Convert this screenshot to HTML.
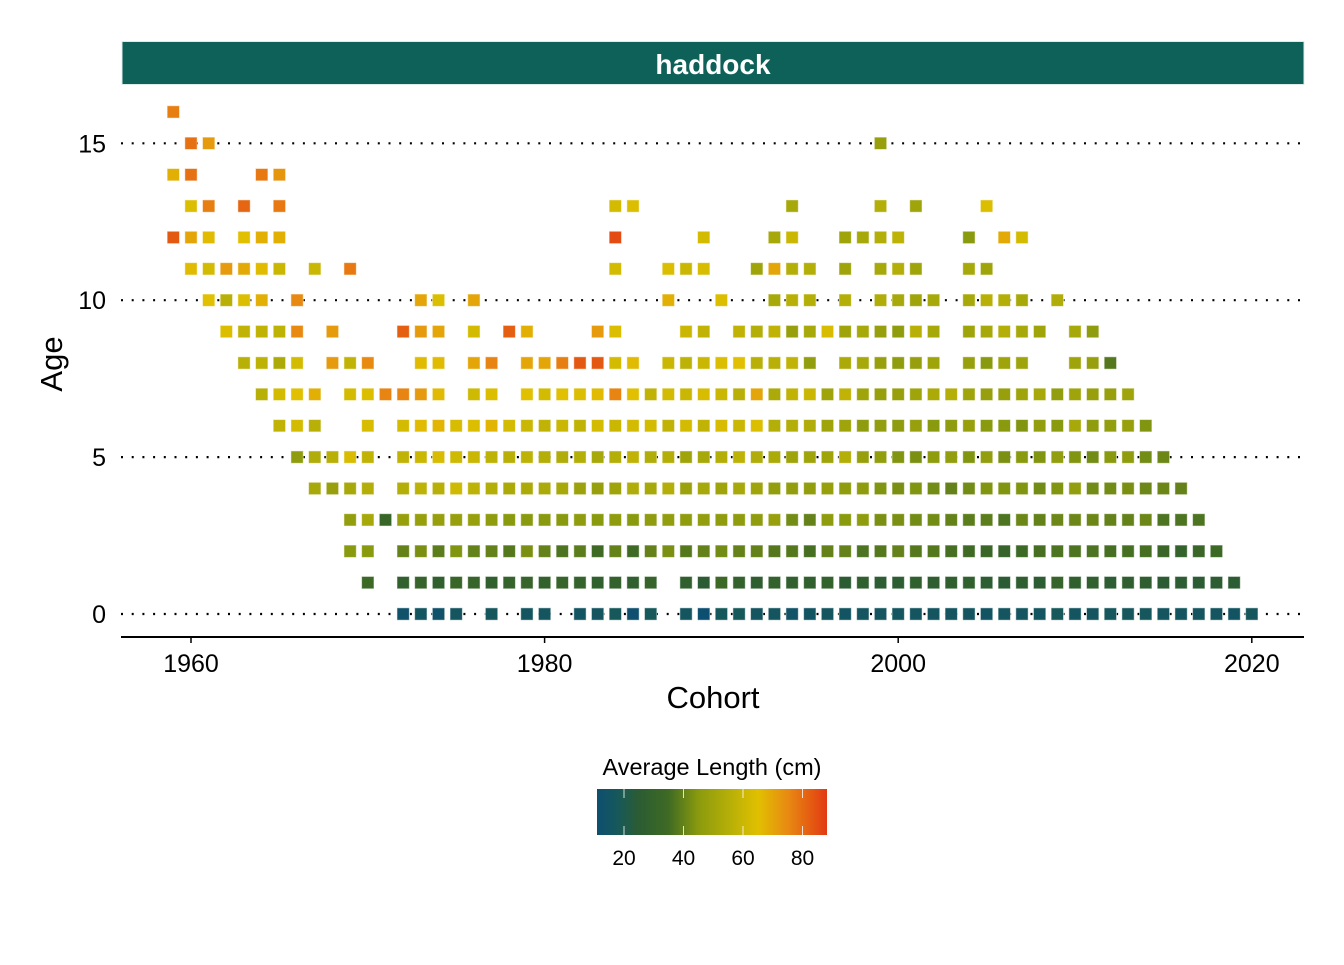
<!DOCTYPE html>
<html><head><meta charset="utf-8"><style>
html,body{margin:0;padding:0;background:#fff;}
svg text{font-family:"Liberation Sans",Arial,sans-serif;}
</style></head><body>
<svg id="chart" width="1344" height="960" viewBox="0 0 1344 960" xmlns="http://www.w3.org/2000/svg">
<defs>
<linearGradient id="cbar" x1="0" x2="1" y1="0" y2="0">
<stop offset="0" stop-color="#0d4f70"/>
<stop offset="0.09" stop-color="#17585a"/>
<stop offset="0.18" stop-color="#2b5c33"/>
<stop offset="0.31" stop-color="#3e6a24"/>
<stop offset="0.44" stop-color="#8a9a0e"/>
<stop offset="0.57" stop-color="#b4ae08"/>
<stop offset="0.70" stop-color="#e0c000"/>
<stop offset="0.83" stop-color="#e88a12"/>
<stop offset="1" stop-color="#e23a12"/>
</linearGradient>
</defs>
<rect x="122" y="41.5" width="1182" height="43" fill="#0e6159" stroke="#e0ecea" stroke-width="1"/>
<text x="713" y="74" text-anchor="middle" font-size="28" font-weight="bold" fill="#fff">haddock</text>
<g id="grid"></g>
<g id="cells"></g>
<line x1="121" x2="1304" y1="637" y2="637" stroke="#000" stroke-width="2"/>
<g id="axes"></g>
<text x="713" y="708" text-anchor="middle" font-size="31">Cohort</text>
<text x="62" y="364" text-anchor="middle" font-size="31" transform="rotate(-90 62 364)">Age</text>
<g>
<text x="712" y="775" text-anchor="middle" font-size="23.5">Average Length (cm)</text>
<rect x="597" y="789" width="230" height="46" fill="url(#cbar)"/>
<g id="legendticks"></g>
</g>
</svg>
<script>
const NS="http://www.w3.org/2000/svg";
const ageTicks=[0,5,10,15];
const cohortTicks=[1960,1980,2000,2020];
const legendTicks=[20,40,60,80];
const age16=[[1959,77]];
const age15=[[1960,79],[1961,72],[1999,48]];
const age14=[[1959,68],[1960,79],[1964,78],[1965,73]];
const age13=[[1960,64],[1961,77],[1963,81],[1965,78],[1984,62],[1985,64],[1994,52],[1999,55],[2001,50],[2005,64]];
const age12=[[1959,83],[1960,70],[1961,66],[1963,65],[1964,68],[1965,68],[1984,85],[1989,62],[1993,52],[1994,60],[1997,50],[1998,52],[1999,55],[2000,57],[2004,45],[2006,69],[2007,62]];
const age11=[[1960,66],[1961,62],[1962,72],[1963,69],[1964,66],[1965,60],[1967,60],[1969,78],[1984,62],[1987,64],[1988,60],[1989,63],[1992,50],[1993,70],[1994,55],[1995,55],[1997,50],[1999,52],[2000,55],[2001,50],[2004,52],[2005,50]];
const age10=[[1961,65],[1962,56],[1963,64],[1964,68],[1966,75],[1973,70],[1974,64],[1976,70],[1987,68],[1990,64],[1993,52],[1994,56],[1995,55],[1997,55],[1999,54],[2000,52],[2001,50],[2002,52],[2004,52],[2005,56],[2006,55],[2007,52],[2009,54]];
const age9=[[1962,64],[1963,58],[1964,58],[1965,57],[1966,75],[1968,72],[1972,82],[1973,72],[1974,70],[1976,62],[1978,82],[1979,68],[1983,72],[1984,64],[1988,60],[1989,58],[1991,58],[1992,55],[1993,58],[1994,48],[1995,52],[1996,63],[1997,50],[1998,52],[1999,48],[2000,46],[2001,56],[2002,52],[2004,50],[2005,52],[2006,55],[2007,52],[2008,50],[2010,52],[2011,46]];
const age8=[[1963,56],[1964,57],[1965,53],[1966,62],[1968,72],[1969,58],[1970,75],[1973,66],[1974,66],[1976,70],[1977,76],[1979,70],[1980,70],[1981,77],[1982,83],[1983,83],[1984,62],[1985,66],[1987,60],[1988,57],[1989,60],[1990,64],[1991,65],[1992,56],[1993,56],[1994,58],[1995,47],[1997,53],[1998,52],[1999,48],[2000,46],[2001,48],[2002,50],[2004,48],[2005,45],[2006,50],[2007,50],[2010,50],[2011,48],[2012,38]];
const age7=[[1964,56],[1965,62],[1966,65],[1967,68],[1969,62],[1970,64],[1971,76],[1972,76],[1973,72],[1974,66],[1976,61],[1977,64],[1979,65],[1980,62],[1981,65],[1982,64],[1983,66],[1984,76],[1985,65],[1986,58],[1987,62],[1988,60],[1989,63],[1990,60],[1991,56],[1992,70],[1993,53],[1994,58],[1995,60],[1996,50],[1997,58],[1998,50],[1999,48],[2000,48],[2001,50],[2002,53],[2003,55],[2004,50],[2005,48],[2006,48],[2007,50],[2008,52],[2009,47],[2010,50],[2011,48],[2012,48],[2013,50]];
const age6=[[1965,58],[1966,62],[1967,56],[1970,63],[1972,62],[1973,66],[1974,67],[1975,63],[1976,64],[1977,67],[1978,62],[1979,60],[1980,58],[1981,60],[1982,58],[1983,62],[1984,60],[1985,62],[1986,62],[1987,58],[1988,62],[1989,58],[1990,63],[1991,60],[1992,64],[1993,55],[1994,55],[1995,54],[1996,50],[1997,50],[1998,46],[1999,47],[2000,46],[2001,48],[2002,45],[2003,46],[2004,48],[2005,45],[2006,45],[2007,44],[2008,47],[2009,45],[2010,52],[2011,46],[2012,47],[2013,48],[2014,44]];
const age5=[[1966,46],[1967,54],[1968,56],[1969,63],[1970,58],[1972,58],[1973,60],[1974,63],[1975,61],[1976,60],[1977,57],[1978,56],[1979,57],[1980,55],[1981,54],[1982,55],[1983,52],[1984,55],[1985,58],[1986,54],[1987,55],[1988,50],[1989,52],[1990,55],[1991,57],[1992,54],[1993,53],[1994,50],[1995,50],[1996,50],[1997,55],[1998,48],[1999,47],[2000,44],[2001,43],[2002,46],[2003,47],[2004,44],[2005,47],[2006,43],[2007,45],[2008,44],[2009,47],[2010,44],[2011,42],[2012,45],[2013,46],[2014,42],[2015,41]];
const age4=[[1967,52],[1968,48],[1969,52],[1970,55],[1972,55],[1973,57],[1974,56],[1975,61],[1976,57],[1977,55],[1978,53],[1979,53],[1980,53],[1981,52],[1982,49],[1983,48],[1984,50],[1985,54],[1986,52],[1987,55],[1988,49],[1989,52],[1990,50],[1991,52],[1992,50],[1993,47],[1994,47],[1995,47],[1996,48],[1997,46],[1998,46],[1999,44],[2000,43],[2001,44],[2002,42],[2003,40],[2004,42],[2005,44],[2006,44],[2007,44],[2008,42],[2009,44],[2010,47],[2011,42],[2012,42],[2013,43],[2014,41],[2015,41],[2016,40]];
const age3=[[1969,47],[1970,52],[1971,32],[1972,48],[1973,48],[1974,48],[1975,48],[1976,48],[1977,46],[1978,45],[1979,45],[1980,45],[1981,45],[1982,46],[1983,45],[1984,46],[1985,45],[1986,46],[1987,47],[1988,46],[1989,47],[1990,46],[1991,46],[1992,46],[1993,48],[1994,42],[1995,40],[1996,46],[1997,45],[1998,46],[1999,43],[2000,43],[2001,42],[2002,42],[2003,40],[2004,39],[2005,39],[2006,37],[2007,41],[2008,40],[2009,41],[2010,41],[2011,41],[2012,40],[2013,40],[2014,41],[2015,37],[2016,37],[2017,37]];
const age2=[[1969,45],[1970,45],[1972,40],[1973,43],[1974,39],[1975,44],[1976,40],[1977,40],[1978,38],[1979,43],[1980,40],[1981,37],[1982,39],[1983,35],[1984,40],[1985,35],[1986,40],[1987,43],[1988,38],[1989,40],[1990,42],[1991,40],[1992,40],[1993,38],[1994,38],[1995,36],[1996,40],[1997,40],[1998,37],[1999,38],[2000,40],[2001,38],[2002,38],[2003,36],[2004,35],[2005,33],[2006,31],[2007,34],[2008,36],[2009,37],[2010,37],[2011,37],[2012,36],[2013,36],[2014,36],[2015,33],[2016,30],[2017,33],[2018,34]];
const age1=[[1970,34],[1972,28],[1973,31],[1974,28],[1975,32],[1976,31],[1977,28],[1978,30],[1979,31],[1980,29],[1981,31],[1982,30],[1983,28],[1984,29],[1985,28],[1986,31],[1988,28],[1989,25],[1990,34],[1991,29],[1992,27],[1993,29],[1994,28],[1995,28],[1996,29],[1997,25],[1998,28],[1999,26],[2000,26],[2001,28],[2002,27],[2003,28],[2004,28],[2005,26],[2006,25],[2007,27],[2008,26],[2009,31],[2010,28],[2011,28],[2012,26],[2013,27],[2014,27],[2015,25],[2016,26],[2017,25],[2018,26],[2019,25]];
const age0=[[1972,13],[1973,16],[1974,13],[1975,16],[1977,17],[1979,16],[1980,16],[1982,15],[1983,16],[1984,18],[1985,12],[1986,18],[1988,16],[1989,11],[1990,18],[1991,18],[1992,16],[1993,16],[1994,14],[1995,15],[1996,16],[1997,15],[1998,16],[1999,16],[2000,16],[2001,16],[2002,16],[2003,16],[2004,16],[2005,15],[2006,16],[2007,16],[2008,16],[2009,18],[2010,16],[2011,16],[2012,17],[2013,17],[2014,17],[2015,16],[2016,16],[2017,16],[2018,16],[2019,15],[2020,17]];
const ages=[age0,age1,age2,age3,age4,age5,age6,age7,age8,age9,age10,age11,age12,age13,age14,age15,age16];

function xScale(c){return 191+(c-1960)*17.68;}
function yScale(a){return 614-a*31.38;}
function legendX(v){return 624+(v-20)*2.975;}
const stops=[[11,[13,79,112]],[18,[23,88,90]],[25,[43,92,51]],[35,[62,106,36]],[45,[138,154,14]],[55,[180,174,8]],[65,[224,192,0]],[75,[232,138,18]],[88,[226,58,18]]];
function colorOf(v){
  if(v<=stops[0][0])return 'rgb('+stops[0][1]+')';
  for(let i=1;i<stops.length;i++){
    if(v<=stops[i][0]){const a=stops[i-1],b=stops[i];const t=(v-a[0])/(b[0]-a[0]);
      const c=a[1].map((x,k)=>Math.round(x+(b[1][k]-x)*t));return 'rgb('+c.join(',')+')';}
  }
  return 'rgb('+stops[stops.length-1][1]+')';
}
const grid=document.getElementById('grid');
ageTicks.forEach(a=>{
  const l=document.createElementNS(NS,'line');
  
  
  l.setAttribute('x1',121);l.setAttribute('x2',1304);
  l.setAttribute('y1',yScale(a));l.setAttribute('y2',yScale(a));
  l.setAttribute('stroke','#000');l.setAttribute('stroke-width','2.2');
  l.setAttribute('stroke-dasharray','2 8.7');
  grid.appendChild(l);
});
const cells=document.getElementById('cells');
ages.forEach((row,a)=>{
  row.forEach(([c,v])=>{
    const r=document.createElementNS(NS,'rect');
    
    
    r.setAttribute('x',xScale(c)-6.2);r.setAttribute('y',yScale(a)-6.2);
    r.setAttribute('width',12.4);r.setAttribute('height',12.4);
    r.setAttribute('fill',colorOf(v));
    r.setAttribute('stroke','rgba(255,255,255,0.55)');r.setAttribute('stroke-width','1');
    cells.appendChild(r);
  });
});
const axes=document.getElementById('axes');
ageTicks.forEach(a=>{
  const t=document.createElementNS(NS,'text');
  
  
  t.setAttribute('x',106);t.setAttribute('y',yScale(a)+9);
  t.setAttribute('text-anchor','end');t.setAttribute('font-size','25');
  t.textContent=a;axes.appendChild(t);
});
cohortTicks.forEach(c=>{
  const l=document.createElementNS(NS,'line');
  
  
  l.setAttribute('x1',xScale(c));l.setAttribute('x2',xScale(c));
  l.setAttribute('y1',637);l.setAttribute('y2',643);
  l.setAttribute('stroke','#000');l.setAttribute('stroke-width','1.5');
  axes.appendChild(l);
  const t=document.createElementNS(NS,'text');
  
  
  t.setAttribute('x',xScale(c));t.setAttribute('y',672);
  t.setAttribute('text-anchor','middle');t.setAttribute('font-size','25');
  t.textContent=c;axes.appendChild(t);
});
const lt=document.getElementById('legendticks');
legendTicks.forEach(v=>{
  [[789,798],[826,835]].forEach(([y1,y2])=>{
    const l=document.createElementNS(NS,'line');
    
    
    l.setAttribute('x1',legendX(v));l.setAttribute('x2',legendX(v));
    l.setAttribute('y1',y1);l.setAttribute('y2',y2);
    l.setAttribute('stroke','rgba(255,255,255,0.8)');l.setAttribute('stroke-width','1');
    lt.appendChild(l);
  });
  const t=document.createElementNS(NS,'text');
  
  
  t.setAttribute('x',legendX(v));t.setAttribute('y',865);
  t.setAttribute('text-anchor','middle');t.setAttribute('font-size','21');
  t.textContent=v;lt.appendChild(t);
});
</script>
</body></html>
